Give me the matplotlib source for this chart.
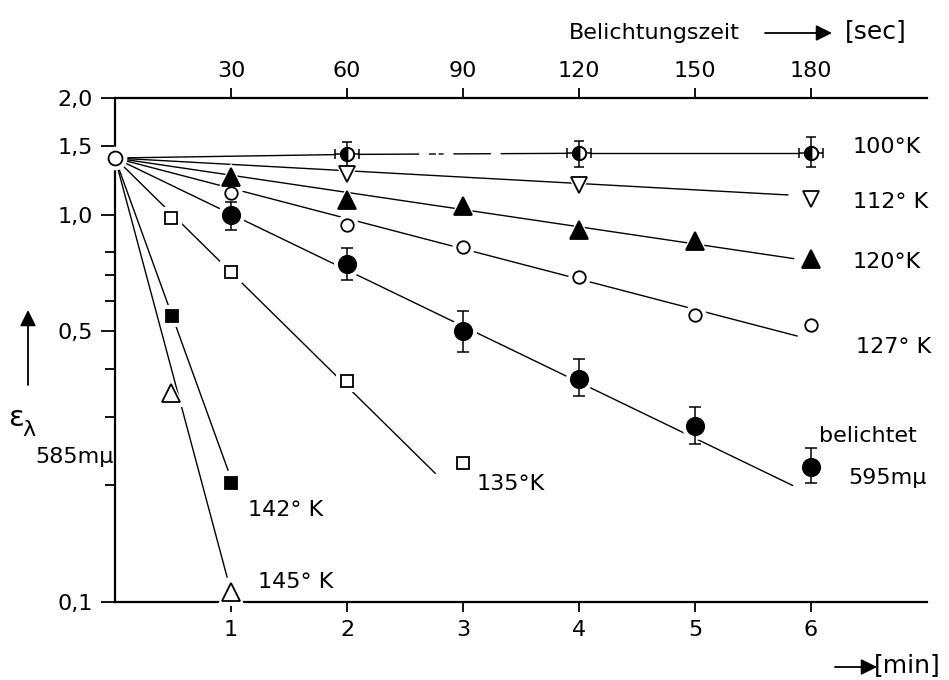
import numpy as np
import matplotlib
matplotlib.use('Agg')
import matplotlib.pyplot as plt
from matplotlib.ticker import NullFormatter, NullLocator

plt.rcParams['font.family'] = ['DejaVu Sans']

# Belichtungszeit in min, Extinktion bei 585 mμ (log. Achse)
t0, e0 = 0.0, 1.4

# 100 K, mit Fehlerbalken in beiden Richtungen
t_100 = [2, 4, 6]
e_100 = [1.43, 1.44, 1.44]
e_100_hi = [1.54, 1.55, 1.59]
e_100_lo = [1.33, 1.33, 1.33]
t_100_err = 0.1

t_112 = [2, 4, 6]
e_112 = [1.27, 1.19, 1.10]

t_120 = [1, 2, 3, 4, 5, 6]
e_120 = [1.25, 1.09, 1.05, 0.91, 0.855, 0.77]

t_127 = [1, 2, 3, 4, 5, 6]
e_127 = [1.14, 0.94, 0.825, 0.69, 0.55, 0.52]

# belichtet bei 595 mμ
t_bel = [1, 2, 3, 4, 5, 6]
e_bel = [1.0, 0.745, 0.50, 0.377, 0.285, 0.223]
e_bel_hi = [1.08, 0.82, 0.564, 0.424, 0.319, 0.25]
e_bel_lo = [0.91, 0.678, 0.442, 0.34, 0.256, 0.203]

t_135 = [0.48, 1, 2, 3]
e_135 = [0.98, 0.71, 0.372, 0.228]

t_142 = [0.49, 1]
e_142 = [0.547, 0.203]

t_145 = [0.48, 1]
e_145 = [0.346, 0.106]

# Endpunkte der Ausgleichsgeraden (vom Startpunkt aus)
fit_112 = (5.8, 1.124)
fit_120 = (5.85, 0.77)
fit_127 = (5.88, 0.486)
fit_bel = (5.84, 0.20)
fit_135 = (2.76, 0.215)
fit_142 = (0.974, 0.219)
fit_145 = (0.966, 0.116)

y_major = [0.1, 0.5, 1.0, 1.5, 2.0]
y_major_labels = ['0,1', '0,5', '1,0', '1,5', '2,0']
y_minor = [0.2, 0.3, 0.4, 0.6, 0.7, 0.8]
x_ticks = [1, 2, 3, 4, 5, 6]
sec_ticks = [30, 60, 90, 120, 150, 180]

fig = plt.figure(figsize=(9.49, 6.8), dpi=100)
ax = fig.add_axes([115 / 949, 78 / 680, 812 / 949, 504 / 680])
ax.set_yscale('log')
ax.set_xlim(0, 7)
ax.set_ylim(0.1, 2.0)

LW = 1.0

# Geraden
for end in [fit_112, fit_120, fit_127, fit_bel, fit_135, fit_142, fit_145]:
    ax.plot([t0, end[0]], [e0, end[1]], color='black', lw=LW, zorder=2)

# 100 K: Segmente durch die Messpunkte, Mittelteil unterbrochen
ax.plot([t0, t_100[0]], [e0, e_100[0]], color='black', lw=LW, zorder=2)
ax.plot(t_100[0:2], e_100[0:2], color='black', lw=LW, zorder=2,
        linestyle=(0, (52, 7, 5, 2, 3.6, 7, 27, 7, 200)))
ax.plot(t_100[1:3], e_100[1:3], color='black', lw=LW, zorder=2)

# (x, y, marker, size, face)
series = [
    (t_112, e_112, 'v', 12, 'white'),
    (t_120, e_120, '^', 13, 'black'),
    (t_127, e_127, 'o', 9, 'white'),
    (t_bel, e_bel, 'o', 12.5, 'black'),
    (t_135, e_135, 's', 8.5, 'white'),
    (t_142, e_142, 's', 9, 'black'),
    (t_145, e_145, '^', 13, 'white'),
    (t_100, e_100, 'o', 9.5, 'black'),
    ([t0], [e0], 'o', 10, 'white'),
]

# weisse Hoefe -> Luecken in den Linien an den Messpunkten
for x, y, m, s, fc in series:
    ax.plot(x, y, linestyle='none', marker=m, markersize=s + 7,
            color='white', markeredgewidth=0, zorder=3, clip_on=False)

# Fehlerbalken
ax.errorbar(t_100, e_100,
            yerr=[np.subtract(e_100, e_100_lo), np.subtract(e_100_hi, e_100)],
            xerr=t_100_err, fmt='none', ecolor='black', elinewidth=1.1,
            capsize=3.5, capthick=1.1, zorder=4)
ax.errorbar(t_bel, e_bel,
            yerr=[np.subtract(e_bel, e_bel_lo), np.subtract(e_bel_hi, e_bel)],
            fmt='none', ecolor='black', elinewidth=1.1,
            capsize=4.5, capthick=1.1, zorder=4)

for x, y, m, s, fc in series:
    ax.plot(x, y, linestyle='none', marker=m, markersize=s,
            markerfacecolor=fc, markeredgecolor='black',
            markeredgewidth=1.3, zorder=5, clip_on=False)

# 100 K: halb gefuellte Kreise
ax.plot(t_100, e_100, linestyle='none', marker='o', markersize=9.5,
        fillstyle='left', markerfacecolor='black', markerfacecoloralt='white',
        markeredgecolor='black', markeredgewidth=1.3, zorder=6)

# Achsen
ax.spines['right'].set_visible(False)
ax.spines['top'].set_visible(False)
for s in ['left', 'bottom']:
    ax.spines[s].set_linewidth(1.6)

fs = 16
ax.set_xticks(x_ticks)
ax.set_xticklabels([str(v) for v in x_ticks])
ax.set_yticks(y_major, labels=y_major_labels)
ax.set_yticks(y_minor, minor=True)
ax.yaxis.set_minor_formatter(NullFormatter())
ax.tick_params(axis='x', length=7, width=1.3, pad=6, labelsize=fs)
ax.tick_params(axis='y', which='major', length=10, width=1.3, pad=6, labelsize=fs)
ax.tick_params(axis='y', which='minor', length=7, width=1.3)
ax.xaxis.set_minor_locator(NullLocator())

sec = ax.secondary_xaxis('top', functions=(lambda m: m * 30, lambda s: s / 30))
sec.set_xticks(sec_ticks)
sec.set_xticklabels([str(v) for v in sec_ticks])
sec.spines['top'].set_linewidth(1.6)
sec.tick_params(axis='x', length=7, width=1.3, pad=5, labelsize=fs)
sec.xaxis.set_minor_locator(NullLocator())

# Kurvenbeschriftungen
ax.text(6.36, 1.494, '100°K', fontsize=fs, va='center')
ax.text(6.36, 1.078, '112° K', fontsize=fs, va='center')
ax.text(6.36, 0.754, '120°K', fontsize=fs, va='center')
ax.text(6.39, 0.455, '127° K', fontsize=fs, va='center')
ax.text(6.07, 0.268, 'belichtet', fontsize=fs, va='center')
ax.text(6.32, 0.209, '595mμ', fontsize=fs, va='center', clip_on=False)
ax.text(3.12, 0.202, '135°K', fontsize=fs, va='center')
ax.text(1.15, 0.173, '142° K', fontsize=fs, va='center')
ax.text(1.23, 0.1126, '145° K', fontsize=fs, va='center')

# Achsentitel
arrow = dict(arrowstyle='-|>', color='black', lw=1.3, mutation_scale=24,
             shrinkA=0, shrinkB=0)
fig.text(654 / 949, 1 - 33 / 680, 'Belichtungszeit', fontsize=fs,
         ha='center', va='center')
ax.annotate('', xy=(832 / 949, 1 - 33 / 680), xytext=(765 / 949, 1 - 33 / 680),
            xycoords='figure fraction', arrowprops=arrow)
fig.text(876 / 949, 1 - 31 / 680, '[sec]', fontsize=18, ha='center', va='center')

ax.annotate('', xy=(877 / 949, 1 - 667 / 680), xytext=(835 / 949, 1 - 667 / 680),
            xycoords='figure fraction', arrowprops=arrow)
fig.text(907 / 949, 1 - 665 / 680, '[min]', fontsize=18, ha='center', va='center')

ax.annotate('', xy=(28 / 949, 1 - 310 / 680), xytext=(28 / 949, 1 - 385 / 680),
            xycoords='figure fraction', arrowprops=arrow)
fig.text(8 / 949, 1 - 418 / 680, 'ε', fontsize=21, ha='left', va='center')
fig.text(22 / 949, 1 - 430 / 680, 'λ', fontsize=16, ha='left', va='center')
fig.text(114 / 949, 1 - 457 / 680, '585mμ', fontsize=fs, ha='right', va='center')

fig.savefig('out.png', dpi=100)
